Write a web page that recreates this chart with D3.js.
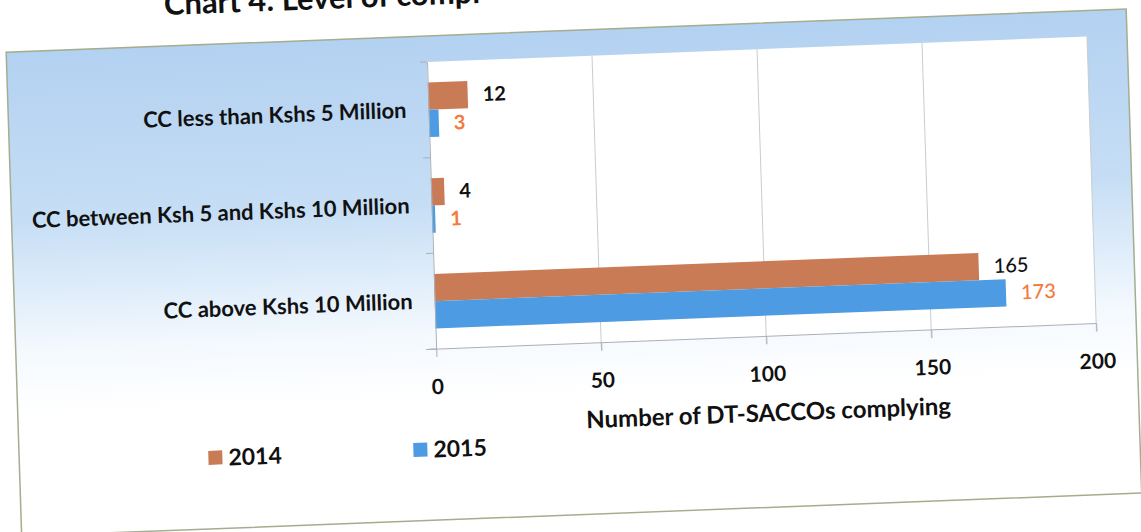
<!DOCTYPE html>
<html><head><meta charset="utf-8">
<script src="https://cdn.jsdelivr.net/npm/d3@7"></script>
<style>html,body{margin:0;padding:0;background:#fff;overflow:hidden}svg{display:block}</style>
</head><body>
<svg id="chart" width="1141" height="532"></svg>
<script>
const categories = ["CC less than Kshs 5 Million", "CC between Ksh 5 and Kshs 10 Million", "CC above Kshs 10 Million"];
const seriesNames = ["2014", "2015"];
const values2014 = [12, 4, 165];
const values2015 = [3, 1, 173];
const xTicks = [0, 50, 100, 150, 200];
const titleText = "Chart 4: Level of compl";
const xAxisTitle = "Number of DT-SACCOs complying";

const colors = {"2014": "#c97b55", "2015": "#4d9be2"};
const labelColors = {"2014": "#111", "2015": "#f47a3e"};
const FONT = "Lato, 'Open Sans', sans-serif";

const svg = d3.select("#chart");
const defs = svg.append("defs");
const grad = defs.append("linearGradient").attr("id", "bg").attr("x1", 0).attr("y1", 0).attr("x2", 0).attr("y2", 1);
grad.append("stop").attr("offset", "0%").attr("stop-color", "#b3d1f1");
grad.append("stop").attr("offset", "35%").attr("stop-color", "#c6def5");
grad.append("stop").attr("offset", "62%").attr("stop-color", "#f4f9fe");
grad.append("stop").attr("offset", "75%").attr("stop-color", "#ffffff");

// whole picture is slightly rotated (photographed page)
const g = svg.append("g").attr("transform", "matrix(1,-0.0385,0.032,1,-1.98,16.44)");

// title (partly cut off at top, as in the photographed page)
g.append("text").attr("x", 166).attr("y", 5)
  .attr("font-family", FONT).attr("font-weight", 700).attr("font-size", 31)
  .attr("fill", "#111").text(titleText);

// frame
const frame = {x: 7, y: 36, w: 1120, h: 484};
g.append("rect").attr("x", frame.x).attr("y", frame.y).attr("width", frame.w).attr("height", frame.h)
  .attr("fill", "url(#bg)").attr("stroke", "#a4ad8e").attr("stroke-width", 1.5);

// plot area
const plot = {x: 427, y: 62, w: 660, h: 287};
g.append("rect").attr("x", plot.x).attr("y", plot.y).attr("width", plot.w).attr("height", plot.h).attr("fill", "#fff");

const x = d3.scaleLinear().domain([0, 200]).range([plot.x, plot.x + plot.w]);
const y0 = d3.scaleBand().domain(categories).range([plot.y, plot.y + plot.h]).paddingInner(0.43).paddingOuter(0.215);
const y1 = d3.scaleBand().domain(seriesNames).range([0, y0.bandwidth()]);

// gridlines
g.append("g").selectAll("line").data(xTicks.slice(1)).join("line")
  .attr("x1", d => x(d)).attr("x2", d => x(d)).attr("y1", plot.y).attr("y2", plot.y + plot.h + 8)
  .attr("stroke", "#c8ccd0").attr("stroke-width", 1);

// bars
const data = categories.map((c, i) => ({cat: c, vals: [{s: "2014", v: values2014[i]}, {s: "2015", v: values2015[i]}]}));
const groups = g.append("g").selectAll("g").data(data).join("g")
  .attr("transform", d => `translate(0,${y0(d.cat)})`);
groups.selectAll("rect").data(d => d.vals).join("rect")
  .attr("x", x(0)).attr("y", d => y1(d.s)).attr("width", d => x(d.v) - x(0)).attr("height", y1.bandwidth())
  .attr("fill", d => colors[d.s]);
groups.selectAll("text").data(d => d.vals).join("text")
  .attr("x", d => x(d.v) + 15).attr("y", d => y1(d.s) + y1.bandwidth() / 2)
  .attr("dy", "0.35em").attr("font-family", FONT).attr("font-size", 20)
  .attr("font-weight", d => d.v > 100 ? 500 : 700)
  .attr("fill", d => labelColors[d.s]).text(d => d.v);

// y axis (category) line and ticks
const yAxis = d3.axisLeft(y0).tickSize(0).tickPadding(22).tickFormat(d => d);
const yg = g.append("g").attr("transform", `translate(${plot.x},0)`).call(yAxis);
yg.select(".domain").attr("stroke", "#aab0b6");
yg.selectAll("text").attr("font-family", FONT).attr("font-weight", 700).attr("font-size", 22).attr("fill", "#111");
const bounds = [plot.y, ...categories.map(c => y0(c) + y0.bandwidth() + y0.step() * y0.paddingInner() / 2).slice(0, 2), plot.y + plot.h];
g.append("g").selectAll("line").data(bounds).join("line")
  .attr("x1", plot.x - 7).attr("x2", plot.x).attr("y1", d => d).attr("y2", d => d)
  .attr("stroke", "#aab0b6");

// x axis
const xAxis = d3.axisBottom(x).tickValues(xTicks).tickSize(8).tickPadding(22);
const xg = g.append("g").attr("transform", `translate(0,${plot.y + plot.h})`).call(xAxis);
xg.select(".domain").attr("stroke", "#aab0b6").attr("d", `M${plot.x - 10},0H${plot.x + plot.w}`);
xg.selectAll(".tick line").attr("stroke", "#aab0b6");
xg.selectAll("text").attr("font-family", FONT).attr("font-weight", 700).attr("font-size", 21).attr("fill", "#111");

// axis title
g.append("text").attr("x", plot.x + plot.w / 2).attr("y", 434).attr("text-anchor", "middle")
  .attr("font-family", FONT).attr("font-weight", 700).attr("font-size", 24).attr("fill", "#111")
  .text(xAxisTitle);

// legend
const legendPos = [{s: "2014", x: 196, y: 449}, {s: "2015", x: 401, y: 449}];
const lg = g.append("g").selectAll("g").data(legendPos).join("g")
  .attr("transform", d => `translate(${d.x},${d.y})`);
lg.append("rect").attr("x", 0).attr("y", -7).attr("width", 14).attr("height", 14).attr("fill", d => colors[d.s]);
lg.append("text").attr("x", 20).attr("y", 0).attr("dy", "0.36em")
  .attr("font-family", FONT).attr("font-weight", 700).attr("font-size", 23).attr("fill", "#111").text(d => d.s);
</script>
</body></html>
